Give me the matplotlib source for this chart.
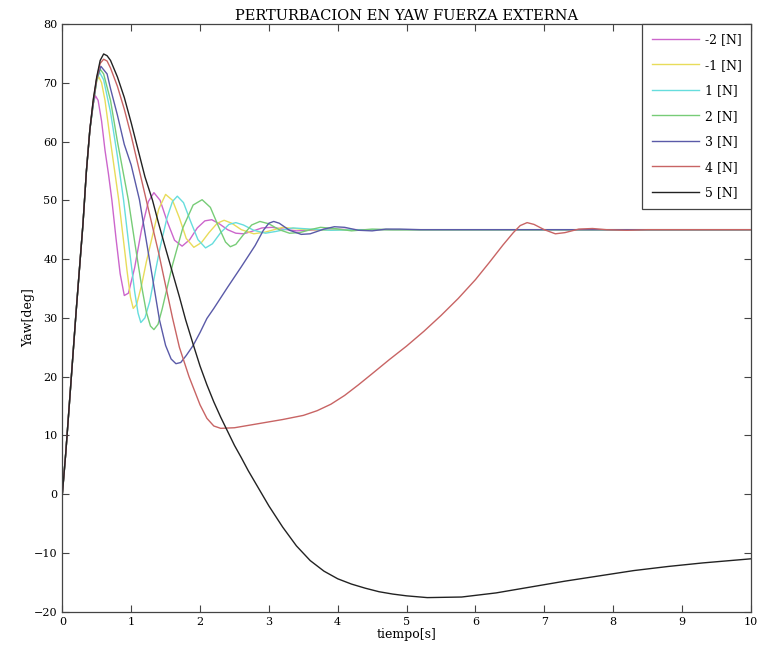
import numpy as np
import matplotlib
matplotlib.use("Agg")
import matplotlib.pyplot as plt

# common first part of every response
t_rise = [0.0, 0.05, 0.1, 0.15, 0.2, 0.25, 0.3, 0.35, 0.4]
y_rise = [0.0, 7.0, 15.0, 23.0, 31.0, 38.5, 46.0, 55.0, 62.0]

# -2 [N]
t_m2 = [0.44, 0.48, 0.52, 0.57, 0.62, 0.67, 0.72, 0.78, 0.84, 0.9, 0.96, 1.05, 1.15, 1.25, 1.33,
        1.42, 1.52, 1.63, 1.74, 1.85, 1.96, 2.07, 2.17, 2.28, 2.4, 2.52, 2.63, 2.75, 2.9, 3.05,
        3.2, 3.4, 3.6, 3.9, 4.3, 10.0]
y_m2 = [66.0, 67.8, 67.0, 63.5, 58.5, 54.5, 50.0, 43.5, 37.5, 33.8, 34.2, 38.5, 45.0, 49.8, 51.3,
        50.0, 46.5, 43.2, 42.2, 43.3, 45.3, 46.5, 46.7, 46.0, 45.0, 44.4, 44.3, 44.7, 45.3, 45.4,
        45.1, 44.8, 44.9, 45.1, 45.0, 45.0]

# -1 [N]
t_m1 = [0.45, 0.5, 0.53, 0.57, 0.62, 0.7, 0.76, 0.82, 0.88, 0.94, 0.99, 1.03, 1.08, 1.15, 1.22,
        1.3, 1.4, 1.5, 1.6, 1.7, 1.8, 1.91, 2.02, 2.13, 2.25, 2.35, 2.46, 2.6, 2.78, 2.95, 3.2,
        3.45, 3.8, 4.2, 10.0]
y_m1 = [66.5, 70.3, 71.0, 70.0, 67.0, 60.0, 55.0, 50.0, 44.0, 38.0, 33.5, 31.6, 32.3, 35.5, 39.5,
        43.5, 48.5, 51.0, 50.0, 47.0, 43.5, 42.0, 42.8, 44.5, 46.1, 46.6, 46.1, 45.0, 44.3, 44.6, 45.4,
        45.1, 44.9, 45.0, 45.0]

# 1 [N]
t_p1 = [0.45, 0.5, 0.54, 0.6, 0.7, 0.8, 0.89, 0.97, 1.05, 1.1, 1.14, 1.2, 1.27, 1.35, 1.42,
        1.52, 1.6, 1.67, 1.76, 1.86, 1.97, 2.08, 2.18, 2.3, 2.42, 2.52, 2.63, 2.78, 2.95, 3.1,
        3.35, 3.6, 3.9, 4.3, 10.0]
y_p1 = [66.5, 70.5, 71.8, 70.5, 65.0, 57.5, 50.0, 42.0, 34.5, 30.8, 29.2, 30.0, 32.8, 37.8, 42.0,
        47.0, 49.8, 50.7, 49.6, 46.5, 43.3, 41.9, 42.6, 44.5, 45.9, 46.2, 45.8, 44.9, 44.4, 44.7,
        45.3, 45.1, 44.9, 45.0, 45.0]

# 2 [N]
t_p2 = [0.45, 0.5, 0.55, 0.6, 0.7, 0.8, 0.88, 0.96, 1.05, 1.15, 1.22, 1.28, 1.33, 1.39, 1.45,
        1.6, 1.75, 1.9, 2.03, 2.15, 2.27, 2.37, 2.44, 2.52, 2.62, 2.75, 2.87, 3.0, 3.15, 3.3,
        3.45, 3.6, 3.75, 3.95, 4.2, 4.5, 4.8, 10.0]
y_p2 = [66.5, 70.5, 72.3, 71.5, 67.0, 60.0, 55.0, 50.0, 43.0, 35.5, 31.0, 28.6, 28.0, 28.9, 31.5,
        39.0, 45.3, 49.2, 50.1, 48.8, 45.5, 42.9, 42.1, 42.5, 44.0, 45.8, 46.4, 46.0, 45.0, 44.4,
        44.5, 45.0, 45.4, 45.2, 44.8, 45.1, 45.0, 45.0]

# 3 [N]
t_p3 = [0.45, 0.5, 0.56, 0.65, 0.7, 0.8, 0.9, 1.0, 1.12, 1.2, 1.3, 1.41, 1.5, 1.58, 1.65, 1.72,
        1.8, 1.9, 2.0, 2.1, 2.2, 2.4, 2.6, 2.8, 2.92, 3.0, 3.07, 3.15, 3.3, 3.47, 3.6, 3.8, 3.95,
        4.1, 4.3, 4.5, 4.7, 4.9, 5.2, 10.0]
y_p3 = [66.5, 70.7, 72.8, 71.5, 69.0, 64.5, 59.5, 56.0, 50.1, 44.5, 37.5, 29.7, 25.3, 23.0, 22.2, 22.4,
        23.6, 25.3, 27.5, 29.9, 31.6, 35.2, 38.7, 42.3, 44.9, 46.1, 46.4, 46.1, 44.9, 44.2, 44.3, 45.1, 45.5,
        45.4, 44.9, 44.8, 45.1, 45.1, 45.0, 45.0]

# 4 [N]
t_p4 = [0.45, 0.5, 0.55, 0.6, 0.65, 0.7, 0.8, 0.9, 1.0, 1.1, 1.22, 1.3, 1.4, 1.5, 1.6, 1.7,
        1.84, 2.0, 2.1, 2.2, 2.3, 2.5, 2.8, 3.2, 3.5, 3.7, 3.9, 4.1, 4.3, 4.5, 4.75, 5.0, 5.25,
        5.5, 5.75, 6.0, 6.2, 6.4, 6.55, 6.65, 6.75, 6.85, 7.0, 7.16, 7.3, 7.5, 7.7, 7.9, 8.2, 8.5, 10.0]
y_p4 = [67.0, 70.8, 73.3, 74.0, 73.7, 72.5, 69.4, 65.5, 61.0, 56.0, 50.0, 46.0, 41.0, 35.5, 30.0, 25.0,
        20.0, 15.2, 12.9, 11.6, 11.2, 11.3, 11.9, 12.7, 13.4, 14.2, 15.3, 16.8, 18.6, 20.5, 22.9, 25.2, 27.7,
        30.4, 33.3, 36.5, 39.4, 42.4, 44.5, 45.7, 46.2, 45.9, 45.0, 44.3, 44.5, 45.1, 45.2, 45.0, 44.9, 45.0, 45.0]

# 5 [N]
t_p5 = [0.45, 0.5, 0.55, 0.6, 0.65, 0.7, 0.8, 0.9, 1.0, 1.1, 1.2, 1.31, 1.4, 1.5, 1.6, 1.7,
        1.79, 1.9, 2.0, 2.1, 2.2, 2.3, 2.4, 2.5, 2.6, 2.7, 2.8, 3.0, 3.2, 3.4, 3.6, 3.8, 4.0,
        4.2, 4.4, 4.6, 4.8, 5.0, 5.3, 5.8, 6.3, 6.8, 7.3, 7.8, 8.3, 8.8, 9.3, 9.8, 10.0]
y_p5 = [67.2, 71.0, 73.8, 74.9, 74.6, 73.8, 71.0, 67.5, 63.2, 58.6, 54.0, 50.0, 46.0, 41.8, 37.7, 33.6,
        29.7, 25.5, 21.8, 18.6, 15.7, 13.1, 10.7, 8.3, 6.2, 4.0, 2.0, -2.0, -5.6, -8.8, -11.3, -13.1, -14.4,
        -15.3, -16.0, -16.6, -17.0, -17.3, -17.6, -17.5, -16.8, -15.8, -14.8, -13.9, -13.0, -12.3, -11.7, -11.2, -11.0]

labels = ['-2 [N]', '-1 [N]', '1 [N]', '2 [N]', '3 [N]', '4 [N]', '5 [N]']
colors = ['#cc66cc', '#e8dc5a', '#66dddd', '#77cc77', '#5a5aa8', '#c86464', '#222222']
series = [(t_m2, y_m2), (t_m1, y_m1), (t_p1, y_p1), (t_p2, y_p2),
          (t_p3, y_p3), (t_p4, y_p4), (t_p5, y_p5)]

plt.rcParams['font.family'] = 'DejaVu Serif'

fig = plt.figure(figsize=(7.6, 6.48), dpi=100)
ax = fig.add_axes([0.082, 0.056, 0.906, 0.907])

for (tt, yy), c, lab in zip(series, colors, labels):
    ax.plot(t_rise + tt, y_rise + yy, color=c, lw=1.0, label=lab)

ax.set_xlim(0, 10)
ax.set_ylim(-20, 80)
ax.set_xticks(range(0, 11))
ax.set_yticks(range(-20, 81, 10))
ax.tick_params(direction='in', top=True, right=True, length=5, labelsize=8, color='#444444')
for s in ax.spines.values():
    s.set_color('#444444')
    s.set_linewidth(0.9)

ax.set_title('PERTURBACION EN YAW FUERZA EXTERNA', fontsize=10.5, pad=3)
ax.set_xlabel('tiempo[s]', fontsize=9, labelpad=1)
ax.set_ylabel('Yaw[deg]', fontsize=9)
ax.yaxis.set_label_coords(-0.04, 0.5)

leg = ax.legend(loc='upper right', fontsize=9, handlelength=3.8, handletextpad=0.45,
                labelspacing=1.0, borderaxespad=0.0, fancybox=False, framealpha=1.0,
                borderpad=0.75)
leg.get_frame().set_edgecolor('#444444')
leg.get_frame().set_linewidth(0.9)

fig.savefig('out.png', dpi=100)
